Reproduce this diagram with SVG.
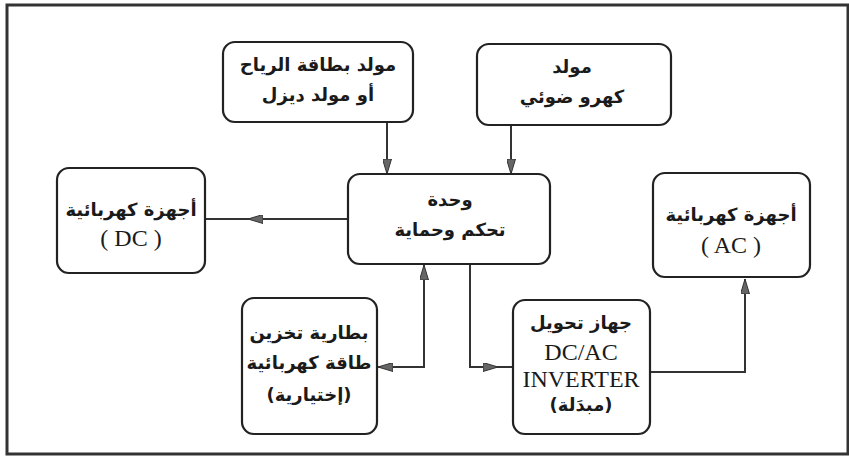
<svg xmlns="http://www.w3.org/2000/svg" width="849" height="459" viewBox="0 0 849 459">
<style>
.frame{fill:none;stroke:#333;stroke-width:3}
.box{fill:#fff;stroke:#222;stroke-width:2.2}
.ar{font-family:"DejaVu Sans",sans-serif;font-weight:bold;font-size:18px;fill:#1a1a1a;text-anchor:middle;direction:rtl}
.la{font-family:"Liberation Serif",serif;font-size:24px;fill:#1a1a1a;text-anchor:middle}
.con{fill:none;stroke:#333;stroke-width:2}
</style>
<defs>
<marker id="ah" viewBox="0 0 15 9" refX="15" refY="4.5" markerWidth="15" markerHeight="9" markerUnits="userSpaceOnUse" orient="auto-start-reverse">
<path d="M0,0 L15,4.5 L0,9 z" fill="#666" stroke="#333" stroke-width="1"/>
</marker>
</defs>
<rect class="frame" x="7" y="5" width="841" height="449"/>
<g id="connectors">
<path class="con" d="M387,122 V174" marker-end="url(#ah)"/>
<path class="con" d="M511,125 V174" marker-end="url(#ah)"/>
<path class="con" d="M348,219 L248,219 L205,219" marker-mid="url(#ah)"/>
<path class="con" d="M424,265 V367 H378" marker-start="url(#ah)" marker-end="url(#ah)"/>
<path class="con" d="M470,264 V367 H498" marker-end="url(#ah)"/>
<path class="con" d="M498,367 H513"/>
<path class="con" d="M650,372 H745 V279" marker-end="url(#ah)"/>
</g>
<g id="wind">
<rect class="box" x="223" y="42" width="190" height="80" rx="12"/>
<text class="ar" x="318" y="71">مولد بطاقة الرياح</text>
<text class="ar" x="318" y="101">أو مولد ديزل</text>
</g>
<g id="pv">
<rect class="box" x="477" y="44" width="194" height="81" rx="12"/>
<text class="ar" x="572" y="73">مولد</text>
<text class="ar" x="572" y="103">كهرو ضوئي</text>
</g>
<g id="control">
<rect class="box" x="348" y="174" width="202" height="90" rx="12"/>
<text class="ar" x="450" y="206">وحدة</text>
<text class="ar" x="450" y="236">تحكم وحماية</text>
</g>
<g id="dc">
<rect class="box" x="57" y="168" width="148" height="105" rx="12"/>
<text class="ar" x="131" y="216">أجهزة كهربائية</text>
<text class="la" x="131" y="246">( DC )</text>
</g>
<g id="ac">
<rect class="box" x="653" y="173" width="157" height="104" rx="12"/>
<text class="ar" x="731" y="221">أجهزة كهربائية</text>
<text class="la" x="731" y="253">( AC )</text>
</g>
<g id="battery">
<rect class="box" x="242" y="298" width="135" height="136" rx="12"/>
<text class="ar" x="309" y="339">بطارية تخزين</text>
<text class="ar" x="309" y="369">طاقة كهربائية</text>
<text class="ar" x="309" y="401">(إختيارية)</text>
</g>
<g id="inverter">
<rect class="box" x="513" y="300" width="137" height="134" rx="12"/>
<text class="ar" x="581" y="329">جهاز تحويل</text>
<text class="la" x="581" y="360">DC/AC</text>
<text class="la" x="581" y="387">INVERTER</text>
<text class="ar" x="581" y="411">(مبدَلة)</text>
</g>
</svg>
